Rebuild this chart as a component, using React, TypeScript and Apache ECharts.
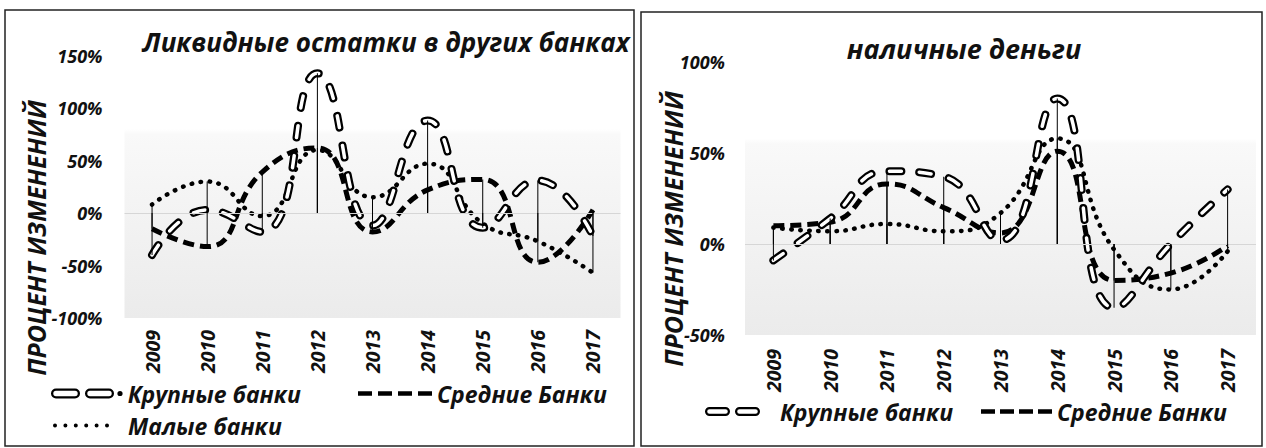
import React, { useEffect, useRef } from 'react';
import * as echarts from 'echarts';

const years = ['2009', '2010', '2011', '2012', '2013', '2014', '2015', '2016', '2017'];
const liquidLarge = [-40, 3, -18, 133, -12, 88, -14, 31, -22];
const liquidMedium = [-15, -32, 39, 62, -18, 22, 32, -47, 3];
const liquidSmall = [8, 30, -3, 60, 15, 47, -10, -27, -57];
const cashLarge = [-9, 14, 40, 37, 2, 80, -35, 0, 30];
const cashMedium = [10, 12, 33, 20, 6, 51, -20, -16, -1];
const cashSmall = [9, 7, 11, 7, 17, 58, -3, -25, -4];
const leftTicks = { min: -100, max: 150, interval: 50 };
const rightTicks = { min: -50, max: 100, interval: 50 };
const seriesNames = ['Крупные банки', 'Средние Банки', 'Малые банки'];
const titles = ['Ликвидные остатки в других банках', 'наличные деньги'];
const axisTitle = 'ПРОЦЕНТ ИЗМЕНЕНИЙ';

const FONT = '"Open Sans", "Noto Sans", "DejaVu Sans", sans-serif';

function pill(x0: number, w: number, h: number, t: number) {
  const r = h / 2;
  const ri = r - t;
  const outer = `M${x0 + r} 0H${x0 + w - r}A${r} ${r} 0 0 1 ${x0 + w - r} ${h}H${x0 + r}A${r} ${r} 0 0 1 ${x0 + r} 0Z`;
  const inner = `M${x0 + r} ${t}A${ri} ${ri} 0 0 0 ${x0 + r} ${h - t}H${x0 + w - r}A${ri} ${ri} 0 0 0 ${x0 + w - r} ${t}Z`;
  return outer + inner;
}
function dot(cx: number, cy: number, r: number) {
  return `M${cx - r} ${cy}A${r} ${r} 0 1 0 ${cx + r} ${cy}A${r} ${r} 0 1 0 ${cx - r} ${cy}Z`;
}
function dashes(n: number, len: number, gap: number, h: number) {
  let d = '';
  for (let i = 0; i < n; i++) {
    const x = i * (len + gap);
    d += `M${x} 0H${x + len}V${h}H${x}Z`;
  }
  return d;
}
function dots(n: number, step: number, r: number) {
  let d = '';
  for (let i = 0; i < n; i++) d += dot(r + i * step, r, r);
  return d;
}

const iconBigLeft = 'path://' + pill(0, 29, 10, 2.3) + pill(34, 29, 10, 2.3) + dot(69, 5, 2.6);
const iconBigRight = 'path://' + pill(0, 25, 9, 2.2) + pill(30, 25, 9, 2.2);
const iconMedium = 'path://' + dashes(4, 14, 6, 4.5);
const iconMediumR = 'path://' + dashes(4, 14, 5, 4.5);
const iconSmall = 'path://' + dots(6, 10.4, 2);

const textBase = {
  fontFamily: FONT,
  fontWeight: 'bold' as const,
  fontStyle: 'italic' as const,
  color: '#111',
};

function makeSeries(g: number, large: number[], medium: number[], small: number[]) {
  const common = {
    type: 'line' as const,
    xAxisIndex: g,
    yAxisIndex: g,
    smooth: 0.5,
    showSymbol: false,
    symbol: 'none',
    silent: true,
    itemStyle: { color: '#000' },
  };
  const drop = (data: number[]) => ({
    type: 'bar' as const,
    name: '_drop',
    xAxisIndex: g,
    yAxisIndex: g,
    data,
    barWidth: 1,
    barGap: '-100%',
    silent: true,
    z: 5,
    itemStyle: { color: '#000' },
  });
  return [
    {
      ...common,
      name: seriesNames[2],
      data: small,
      z: 2,
      lineStyle: { color: '#000', width: 4.5, type: [0.5, 8.5], cap: 'round' },
      markLine: {
        silent: true,
        symbol: 'none',
        label: { show: false },
        lineStyle: { color: '#d6d6d6', type: 'solid', width: 1 },
        data: [{ yAxis: 0 }],
      },
    },
    {
      ...common,
      name: seriesNames[1],
      data: medium,
      z: 2,
      lineStyle: { color: '#000', width: 5, type: [11, 6], cap: 'butt' },
    },
    {
      ...common,
      name: seriesNames[0],
      data: large,
      z: 3,
      lineStyle: { color: '#000', width: 8, type: [12, 18], cap: 'round' },
    },
    {
      ...common,
      name: seriesNames[0] + ' ',
      data: large,
      z: 3,
      itemStyle: { color: '#fff' },
      lineStyle: { color: '#fff', width: 3.5, type: [12, 18], cap: 'round' },
    },
    drop(large),
    drop(medium),
    drop(small),
  ];
}

const bg = () =>
  new echarts.graphic.LinearGradient(0, 0, 0, 1, [
    { offset: 0, color: '#ffffff' },
    { offset: 0.28, color: '#ffffff' },
    { offset: 0.3, color: '#f9f9f9' },
    { offset: 1, color: '#ebebeb' },
  ]);

function legend(name: string, icon: string, left: number, top: number, w: number, h: number, padLeft = 0) {
  return {
    left,
    top,
    padding: 0,
    itemWidth: w,
    itemHeight: h,
    selectedMode: false,
    data: [
      {
        name,
        icon,
        itemStyle: { color: '#000', borderWidth: 0 },
      },
    ],
    textStyle: { ...textBase, fontSize: 23, padding: [0, 0, 0, padLeft] },
  };
}

export default function App() {
  const ref = useRef<HTMLDivElement>(null);
  useEffect(() => {
    if (!ref.current) return;
    const chart = echarts.init(ref.current, undefined, { renderer: 'svg' });
    const xAxis = (g: number, margin: number) => ({
      type: 'category' as const,
      gridIndex: g,
      data: years,
      boundaryGap: true,
      axisLine: { show: false },
      axisTick: { show: false },
      splitLine: { show: false },
      axisLabel: { ...textBase, rotate: 90, margin, fontSize: 19.5 },
    });
    const yAxis = (g: number, ticks: { min: number; max: number; interval: number }, margin: number) => ({
      type: 'value' as const,
      gridIndex: g,
      min: ticks.min,
      max: ticks.max,
      interval: ticks.interval,
      axisLine: { show: false },
      axisTick: { show: false },
      splitLine: { show: false },
      axisLabel: { ...textBase, formatter: '{value}%', margin, fontSize: 18 },
    });
    chart.setOption({
      animation: false,
      backgroundColor: '#fff',
      grid: [
        { left: 124.5, top: 55.5, width: 496, height: 262.5, show: true, borderWidth: 0, backgroundColor: bg() },
        { left: 745, top: 62, width: 511, height: 273, show: true, borderWidth: 0, backgroundColor: bg() },
      ],
      xAxis: [xAxis(0, 12), xAxis(1, 14)],
      yAxis: [yAxis(0, leftTicks, 22), yAxis(1, rightTicks, 20)],
      legend: [
        legend(seriesNames[0], iconBigLeft, 51, 382, 72, 10),
        legend(seriesNames[1], iconMedium, 358, 382, 74, 4.5),
        legend(seriesNames[2], iconSmall, 53, 414, 56, 4, 14),
        legend(seriesNames[0], iconBigRight, 705, 400, 55, 9, 15),
        legend(seriesNames[1], iconMediumR, 981, 400, 71, 4.5),
      ],
      series: [
        ...makeSeries(0, liquidLarge, liquidMedium, liquidSmall),
        ...makeSeries(1, cashLarge, cashMedium, cashSmall),
      ],
      graphic: [
        { type: 'rect', shape: { x: 5, y: 10, width: 629, height: 436 }, style: { fill: 'none', stroke: '#222', lineWidth: 1.5 }, silent: true },
        { type: 'rect', shape: { x: 641, y: 12, width: 621, height: 434 }, style: { fill: 'none', stroke: '#222', lineWidth: 1.5 }, silent: true },
        {
          type: 'text', x: 386, y: 42, silent: true,
          style: { text: titles[0], font: `italic bold 26px ${FONT}`, fill: '#111', textAlign: 'center', textVerticalAlign: 'middle' },
        },
        {
          type: 'text', x: 964, y: 48, silent: true,
          style: { text: titles[1], font: `italic bold 27px ${FONT}`, fill: '#111', textAlign: 'center', textVerticalAlign: 'middle' },
        },
        {
          type: 'text', x: 36, y: 238, rotation: Math.PI / 2, silent: true,
          style: { text: axisTitle, font: `italic bold 25px ${FONT}`, fill: '#111', textAlign: 'center', textVerticalAlign: 'middle' },
        },
        {
          type: 'text', x: 673, y: 229, rotation: Math.PI / 2, silent: true,
          style: { text: axisTitle, font: `italic bold 25px ${FONT}`, fill: '#111', textAlign: 'center', textVerticalAlign: 'middle' },
        },
      ],
    });
    return () => chart.dispose();
  }, []);
  return <div ref={ref} style={{ position: 'absolute', left: 0, top: 0, width: 1266, height: 448 }} />;
}
